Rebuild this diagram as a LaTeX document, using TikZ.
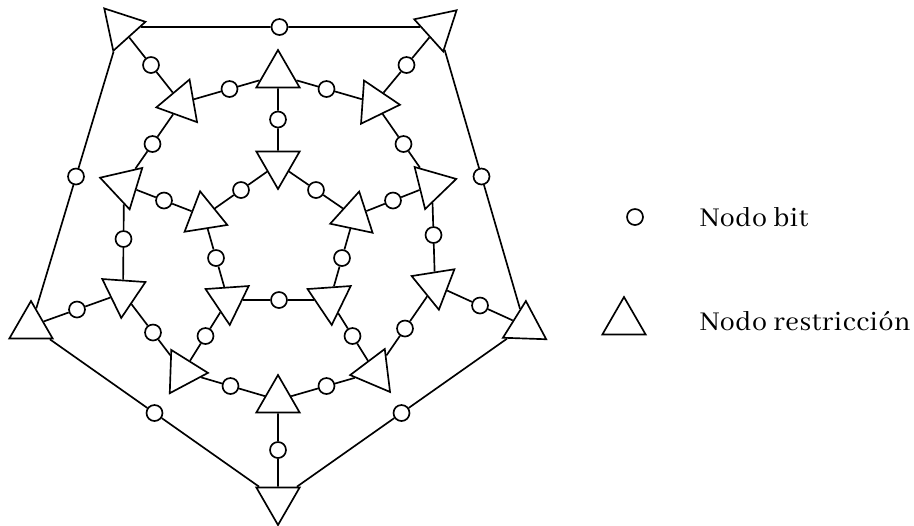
\documentclass[tikz,border=0pt]{standalone}
\usepackage{fontspec}
\usetikzlibrary{positioning, calc, shapes.geometric}
\newfontfamily\legendfont[LetterSpace=2]{Abhaya Libre}

\begin{document}
\begin{tikzpicture}[
  x=0.02cm, y=-0.02cm,
  line width=0.95pt,
  check/.style={draw, regular polygon, regular polygon sides=3,
                minimum size=1cm, inner sep=0pt},
  bit/.style={draw, circle, fill=white, minimum size=0.32cm, inner sep=0pt},
  legend/.style={anchor=base west, inner sep=0pt,
                 font=\legendfont\fontsize{17}{20}\selectfont},
]
  % Frame
  \useasboundingbox (0,0) rectangle (914,525);

  % Check nodes: outer ring, middle ring, inner ring
  \foreach \n/\x/\y/\r in {o1/121/27/42, o2/438/27/72, o3/525/326/-2,
                           o4/278/500/60, o5/31/326/0}
    \node[check, rotate=\r] (\n) at (\x,\y) {};
  \foreach \n/\x/\y/\r in {r1/278/75/0, r2/375/103/26, r3/432/185/44,
                           r4/435/285/69, r5/375/372/-23, r6/278/400/0,
                           r7/183/372/28, r8/123/293/56, r9/124/185/73,
                           r10/181/103/-20}
    \node[check, rotate=\r] (\n) at (\x,\y) {};
  \foreach \n/\x/\y/\r in {i1/278/164/60, i2/354/216/-12, i3/330/300/64,
                           i4/228/300/64, i5/204/216/9}
    \node[check, rotate=\r] (\n) at (\x,\y) {};

  % Bit nodes on every edge
  \foreach \a/\b [count=\k] in {o1/o2, o2/o3, o3/o4, o4/o5, o5/o1,
                                o1/r10, o2/r2, o3/r4, o4/r6, o5/r8,
                                r1/r2, r2/r3, r3/r4, r4/r5, r5/r6,
                                r6/r7, r7/r8, r8/r9, r9/r10, r10/r1,
                                r1/i1, r3/i2, r5/i3, r7/i4, r9/i5,
                                i1/i2, i2/i3, i3/i4, i4/i5, i5/i1} {
    \node[bit] (bit\k) at ($(\a)!0.5!(\b)$) {};
    \draw (\a) -- (bit\k) -- (\b);
  }

  % Legend
  \node[bit] (keybit) at (635,217) {};
  \node[legend] (keybittext) at (699,226) {Nodo bit};
  \node[check] (keycheck) at (624,322) {};
  \node[legend] (keychecktext) at (699,330) {Nodo restricción};
\end{tikzpicture}
\end{document}
